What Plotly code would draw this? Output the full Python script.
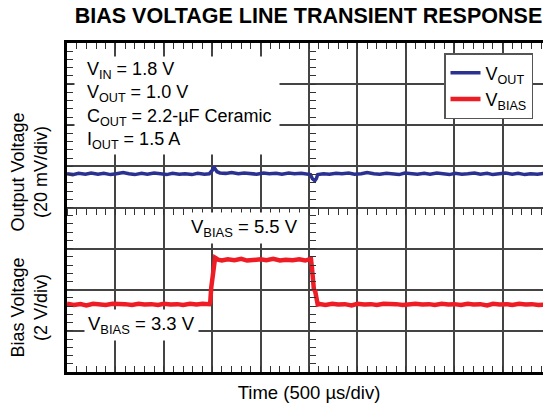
import plotly.graph_objects as go

# ---- data (time in microseconds, amplitude in scope divisions) ----
t_out = [0, 60, 120, 190, 250, 320, 380, 450, 510, 580, 640, 700, 770, 830, 900,
         960, 1030, 1090, 1160, 1220, 1290, 1350, 1420, 1470, 1500, 1515, 1530,
         1550, 1580, 1640, 1700, 1770, 1830, 1900, 1960, 2030, 2090, 2160, 2220,
         2290, 2350, 2420, 2480, 2515, 2535, 2560, 2575, 2590, 2650, 2710, 2780,
         2840, 2910, 2970, 3040, 3100, 3170, 3230, 3300, 3360, 3430, 3490, 3560,
         3620, 3690, 3750, 3820, 3880, 3950, 4010, 4080, 4140, 4210, 4270, 4340,
         4400, 4470, 4530, 4600, 4660, 4730, 4790, 4860, 4920, 5000]
v_out = [4.82, 4.80, 4.83, 4.81, 4.84, 4.81, 4.83, 4.80, 4.82, 4.85, 4.82, 4.80,
         4.83, 4.81, 4.84, 4.82, 4.80, 4.83, 4.81, 4.82, 4.80, 4.83, 4.81, 4.82,
         4.90, 4.99, 4.95, 4.87, 4.84, 4.83, 4.85, 4.82, 4.84, 4.82, 4.81, 4.84,
         4.82, 4.83, 4.81, 4.84, 4.82, 4.83, 4.81, 4.80, 4.70, 4.65, 4.70, 4.80,
         4.82, 4.81, 4.83, 4.82, 4.84, 4.81, 4.82, 4.85, 4.82, 4.81, 4.83, 4.82,
         4.80, 4.84, 4.82, 4.81, 4.83, 4.81, 4.84, 4.82, 4.80, 4.83, 4.81, 4.82,
         4.84, 4.81, 4.83, 4.80, 4.82, 4.84, 4.81, 4.83, 4.80, 4.82, 4.81, 4.83,
         4.82]

t_bias = [0, 70, 140, 200, 270, 340, 400, 470, 540, 600, 670, 740, 800, 870, 940,
          1000, 1070, 1140, 1200, 1270, 1340, 1400, 1470, 1480, 1490, 1500, 1515,
          1530, 1545, 1560, 1600, 1660, 1730, 1800, 1860, 1930, 2000, 2060, 2130,
          2200, 2260, 2330, 2400, 2460, 2500, 2520, 2530, 2540, 2550, 2565, 2575,
          2590, 2610, 2670, 2740, 2800, 2870, 2940, 3000, 3070, 3140, 3200, 3270,
          3340, 3400, 3470, 3540, 3600, 3670, 3740, 3800, 3870, 3940, 4000, 4070,
          4140, 4200, 4270, 4340, 4400, 4470, 4540, 4600, 4670, 4740, 4800, 4870,
          4940, 5000]
v_bias = [1.66, 1.63, 1.65, 1.62, 1.66, 1.64, 1.63, 1.66, 1.64, 1.65, 1.63, 1.66,
          1.64, 1.65, 1.63, 1.66, 1.64, 1.65, 1.63, 1.66, 1.64, 1.66, 1.65, 1.70,
          2.05, 2.25, 2.45, 2.78, 2.76, 2.73, 2.71, 2.74, 2.72, 2.75, 2.71, 2.73,
          2.74, 2.72, 2.75, 2.71, 2.73, 2.72, 2.74, 2.71, 2.73, 2.75, 2.55, 2.25,
          2.02, 1.95, 1.75, 1.64, 1.65, 1.63, 1.66, 1.64, 1.65, 1.62, 1.66, 1.64,
          1.65, 1.63, 1.66, 1.64, 1.65, 1.63, 1.64, 1.66, 1.64, 1.65, 1.63, 1.66,
          1.64, 1.65, 1.63, 1.66, 1.64, 1.65, 1.62, 1.66, 1.64, 1.65, 1.63, 1.66,
          1.64, 1.65, 1.63, 1.65, 1.64]

x_range = [0, 5000]
y_range = [0, 8]
title_text = "BIAS VOLTAGE LINE TRANSIENT RESPONSE"
x_title = "Time (500 µs/div)"
y_title_top = "Output Voltage<br>(20 mV/div)"
y_title_bottom = "Bias Voltage<br>(2 V/div)"
cond_text = ("&nbsp;&nbsp;V<sub>IN</sub> = 1.8 V<br>"
             "&nbsp;&nbsp;V<sub>OUT</sub> = 1.0 V<br>"
             "&nbsp;&nbsp;C<sub>OUT</sub> = 2.2-µF Ceramic<br>"
             "&nbsp;&nbsp;I<sub>OUT</sub> = 1.5 A")
hi_label = "V<sub>BIAS</sub> = 5.5 V"
lo_label = "V<sub>BIAS</sub> = 3.3 V"

FONT = "Liberation Sans, Arial, Helvetica, sans-serif"
GRID = "#444444"
TICK = "#333333"

W, H = 543, 398          # page body has an 8 px margin in the viewer
L, R, T, B = 59, 0, 35, 34
PW, PH = W - L - R, H - T - B

fig = go.Figure()
fig.add_trace(go.Scatter(x=t_out, y=v_out, mode="lines", name="V<sub>OUT</sub>",
                         line=dict(color="#2b3190", width=3.5)))
fig.add_trace(go.Scatter(x=t_bias, y=v_bias, mode="lines", name="V<sub>BIAS</sub>",
                         line=dict(color="#ee1c25", width=4.5)))
# empty helper traces so the centre-line tick axes get drawn
fig.add_trace(go.Scatter(x=[], y=[], xaxis="x2", yaxis="y", showlegend=False, hoverinfo="skip"))
fig.add_trace(go.Scatter(x=[], y=[], xaxis="x", yaxis="y2", showlegend=False, hoverinfo="skip"))

axis_common = dict(showgrid=True, gridcolor=GRID, gridwidth=1.5, zeroline=False,
                   showline=True, linecolor="black", linewidth=3, mirror="allticks",
                   ticks="inside", ticklen=6, tickwidth=1.3, tickcolor=TICK,
                   showticklabels=False)

fig.update_layout(
    width=W, height=H, autosize=False,
    margin=dict(l=L, r=R, t=T, b=B),
    paper_bgcolor="white", plot_bgcolor="white",
    font=dict(family=FONT, color="black", size=18),
    title=dict(text="<b>" + title_text + "</b>", x=300.5 / W, xanchor="center",
               y=1 - 7 / H, yanchor="middle",
               font=dict(family=FONT, size=21.5, color="black")),
    xaxis=dict(range=x_range, dtick=500, tick0=0,
               minor=dict(dtick=100, ticks="inside", ticklen=6, tickwidth=1.3,
                          tickcolor=TICK, showgrid=False),
               title=dict(text=x_title, standoff=13, font=dict(size=18.5)),
               automargin=False, **axis_common),
    yaxis=dict(range=y_range, dtick=1, tick0=0,
               minor=dict(dtick=0.2, ticks="inside", ticklen=6, tickwidth=1.3,
                          tickcolor=TICK, showgrid=False),
               automargin=False, **axis_common),
    xaxis2=dict(range=x_range, overlaying="x", anchor="free", position=0.5,
                side="bottom", showgrid=False, zeroline=False, showline=False,
                showticklabels=False, ticks="outside", dtick=500, tick0=0,
                ticklen=6, tickwidth=1.3, tickcolor=TICK,
                minor=dict(dtick=100, ticks="outside", ticklen=6, tickwidth=1.3,
                           tickcolor=TICK, showgrid=False)),
    yaxis2=dict(range=y_range, overlaying="y", anchor="free", position=0.5,
                side="left", showgrid=False, zeroline=False, showline=False,
                showticklabels=False, ticks="inside", dtick=1, tick0=0,
                ticklen=6, tickwidth=1.3, tickcolor=TICK,
                minor=dict(dtick=0.2, ticks="inside", ticklen=6, tickwidth=1.3,
                           tickcolor=TICK, showgrid=False)),
    legend=dict(x=(444 - 67) / PW, y=(329 - 10) / PH, xanchor="left", yanchor="top",
                bgcolor="white", bordercolor="#555555", borderwidth=1.5,
                font=dict(family=FONT, size=18, color="black"),
                tracegroupgap=2),
    showlegend=True,
)

fig.add_annotation(text=cond_text, xref="paper", yref="paper", x=0, xshift=7,
                   y=(329 - 62) / PH, xanchor="left", yanchor="middle",
                   align="left", width=200, bgcolor="white", borderpad=2,
                   showarrow=False, font=dict(size=18))
fig.add_annotation(text=hi_label, x=1831, y=3.50, xref="x", yref="y",
                   bgcolor="white", borderpad=3, showarrow=False, font=dict(size=18.5))
fig.add_annotation(text=lo_label, x=766, y=1.14, xref="x", yref="y",
                   bgcolor="white", borderpad=3, showarrow=False, font=dict(size=18.5))
fig.add_annotation(text=y_title_top, xref="paper", yref="paper",
                   x=(28.5 - 67) / PW, y=(372 - 172) / PH, xanchor="center",
                   yanchor="middle", textangle=-90,
                   showarrow=False, font=dict(size=18))
fig.add_annotation(text=y_title_bottom, xref="paper", yref="paper",
                   x=(28.5 - 67) / PW, y=(372 - 308) / PH, xanchor="center",
                   yanchor="middle", textangle=-90,
                   showarrow=False, font=dict(size=18))

fig.write_html("out.html")
